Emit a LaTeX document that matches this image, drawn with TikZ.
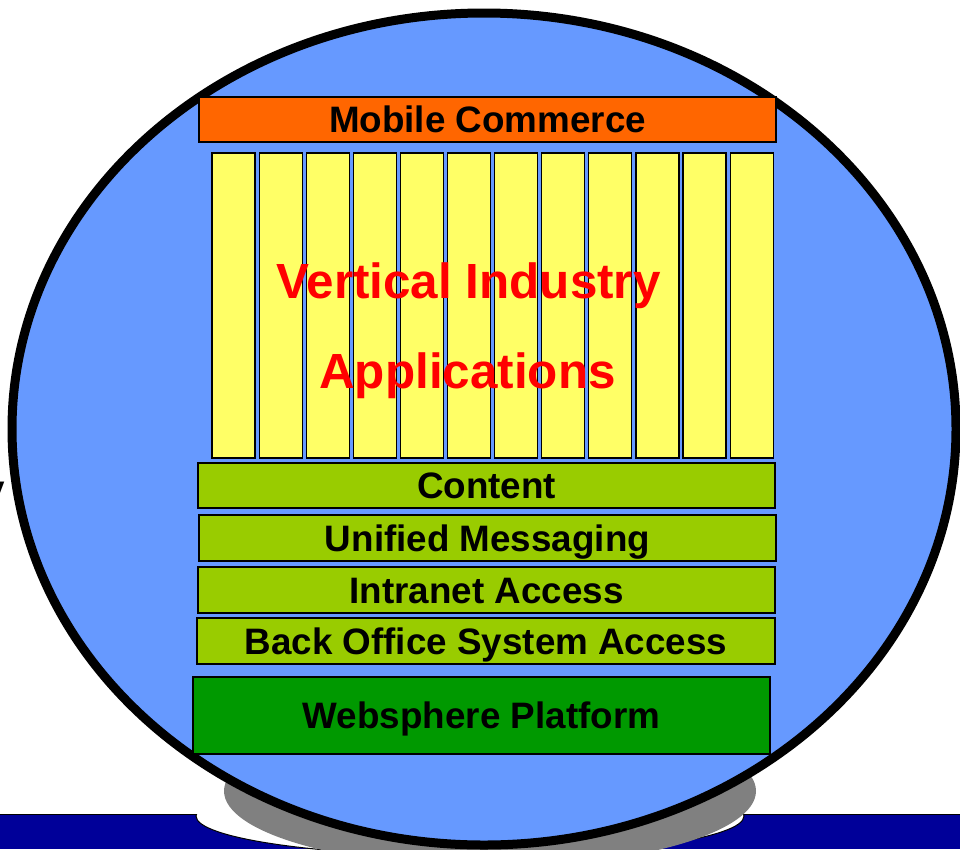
\documentclass[tikz,border=0pt]{standalone}
\usepackage{fontspec}
\setmainfont{Liberation Sans}
\usepackage{tikz}
\usepackage{xcolor}

\definecolor{discblue}{HTML}{6699FF}
\definecolor{barblue}{HTML}{000099}
\definecolor{mobileorange}{HTML}{FF6600}
\definecolor{appyellow}{HTML}{FFFF66}
\definecolor{servicegreen}{HTML}{99CC00}
\definecolor{platformgreen}{HTML}{009900}
\definecolor{shadowgray}{HTML}{808080}

\begin{document}
\begin{tikzpicture}[x=1pt, y=-1pt,
    layer/.style={draw=black, line width=1.2pt, inner sep=0pt, minimum width=577pt, minimum height=46pt,
                  font=\fontsize{36.8}{44}\selectfont\bfseries, text height=26.4pt, text depth=0pt},
    column/.style={draw=black, line width=1.2pt, fill=appyellow, inner sep=0pt, minimum width=43pt, minimum height=305pt},
    apptext/.style={inner sep=0pt, anchor=base, text=red, font=\fontsize{49.4}{56}\selectfont\bfseries}]
            \useasboundingbox (0,0) rectangle (960,849);

            % Base
            \fill[barblue] (0,814) rectangle (960,849);
            \draw[line width=1pt] (0,814) -- (196,814);
            \draw[line width=1pt] (744,814) -- (960,814);
            \begin{scope}
                \clip (0,814) rectangle (960,849);
                \draw[fill=white, line width=1pt] (470,816) ellipse [x radius=274pt, y radius=40pt];
            \end{scope}
            \fill[shadowgray] (490,791) ellipse [x radius=266pt, y radius=76pt];

            % Disc
            \draw[line width=9pt, fill=discblue] (484,429) ellipse [x radius=472pt, y radius=416pt];
            \node[inner sep=0pt, anchor=base east, font=\fontsize{36.8}{44}\selectfont\bfseries] (cut) at (5,501) {y};

            % Layers
            \node[layer, fill=mobileorange, minimum height=45pt] (mobile) at (487.5,119.5) {Mobile Commerce};
            \foreach \i in {0,...,11}
                \node[column] (col\i) at ({233.5+47.1*\i},305.5) {};
            \node[apptext] (vertical) at (468.5,298) {Vertical Industry};
            \node[apptext] (apps) at (467.5,388) {Applications};
            \node[layer, fill=servicegreen, minimum height=45pt] (content) at (486.5,485.5) {Content};
            \node[layer, fill=servicegreen] (unified) at (487.5,538) {Unified Messaging};
            \node[layer, fill=servicegreen] (intranet) at (486.5,590) {Intranet Access};
            \node[layer, fill=servicegreen, minimum width=578pt] (backoffice) at (486,641) {Back Office System Access};
            \node[layer, fill=platformgreen, minimum height=77pt] (websphere) at (481.5,715.5) {Websphere Platform};
        \end{tikzpicture}
\end{document}
